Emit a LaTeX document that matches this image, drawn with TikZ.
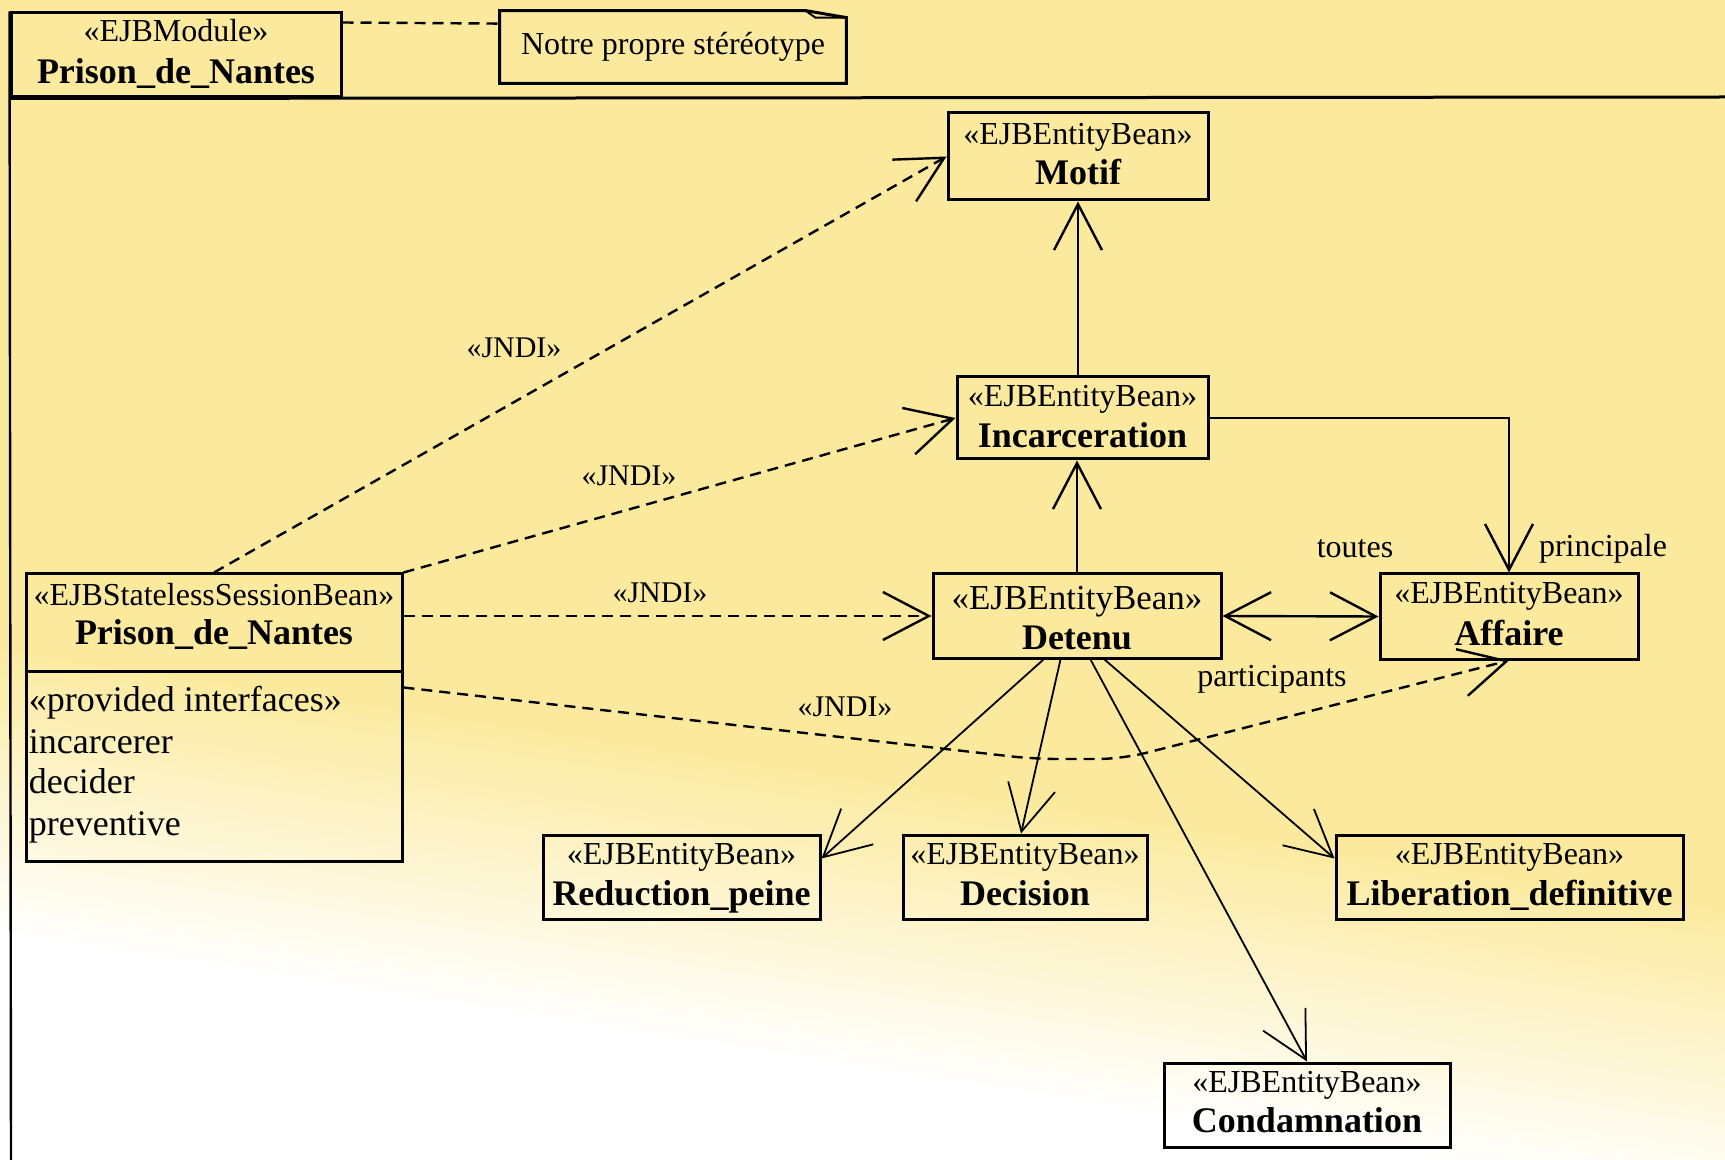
\documentclass[tikz,border=0pt]{standalone}
\usepackage{fontspec}
\setmainfont{Liberation Serif}
\usetikzlibrary{arrows.meta,calc}
\definecolor{bgyellow}{RGB}{251,234,158}

\tikzset{
  openv/.tip={Straight Barb[length=23pt,width=24pt]},
  box/.style={draw, line width=1.5pt, inner sep=0pt},
  stereo/.style={font=\fontsize{16}{19}\selectfont, anchor=base, inner sep=0pt},
  bigstereo/.style={font=\fontsize{17.5}{20}\selectfont, anchor=base, inner sep=0pt},
  title/.style={font=\fontsize{18}{21}\selectfont\bfseries, anchor=base, inner sep=0pt},
  lbl/.style={font=\fontsize{16}{19}\selectfont, inner sep=0pt},
  jndi/.style={font=\fontsize{15}{18}\selectfont, inner sep=0pt},
  iface/.style={font=\fontsize{18}{21}\selectfont, anchor=base west, inner sep=0pt},
  dep/.style={line width=1.2pt, dash pattern=on 5.5pt off 3.5pt, -openv},
  nav/.style={line width=1.2pt, -openv},
  thinnav/.style={line width=0.9pt, -openv},
}

\begin{document}
\begin{tikzpicture}[x=0.5pt,y=-0.5pt]
\useasboundingbox (0,0) rectangle (1725,1160);

% background: yellow fading to white towards the lower left
\fill[bgyellow] (0,0) rectangle (1725,1160);
\begin{scope}
  \clip (0,0) rectangle (1725,1160);
  \foreach \i in {0,...,24} {
    \pgfmathsetmacro\yl{640+290*\i/24}
    \pgfmathsetmacro\yr{900+300*\i/24}
    \pgfmathtruncatemacro\p{100-100*\i/24}
    \fill[bgyellow!\p!white] (0,\yl) -- (1725,\yr) -- (1725,1300) -- (0,1300) -- cycle;
  }
\end{scope}

% module frame and its tab
\node[box, minimum width=165pt, minimum height=42pt] (tab) at (176,55) {};
\node[stereo] (tab-s) at ($(tab.north)+(0,30)$) {«EJBModule»};
\node[title] (tab-t) at ($(tab.north)+(0,72)$) {Prison\_de\_Nantes};
\draw[line width=1.5pt] (tab.south west) -- (1725,97);
\draw[line width=1.2pt] (tab.north west) -- (11,1160);

% note
\node[lbl, minimum width=173pt, minimum height=36pt] (note) at (673,47) {Notre propre stéréotype};
\draw[line width=1.5pt] (note.north west) -- ($(note.north east)+(-41,0)$)
  -- ($(note.north east)+(0,7)$) -- (note.south east) -- (note.south west) -- cycle;
\draw[line width=1pt] ($(note.north east)+(-41,0)$) -- ($(note.north east)+(-31,7)$)
  -- ($(note.north east)+(0,7)$);
\draw[line width=1.2pt, dash pattern=on 5.5pt off 3.5pt]
  ($(tab.north east)+(0,11)$) -- ($(note.north west)+(0,13)$);

% session bean
\node[box, minimum width=188pt, minimum height=143.5pt] (session) at (214,717.5) {};
\draw[line width=1.5pt] ($(session.north west)+(0,99)$) -- ($(session.north east)+(0,99)$);
\node[stereo] (session-s) at ($(session.north)+(0,33)$) {«EJBStatelessSessionBean»};
\node[title] (session-t) at ($(session.north)+(0,72)$) {Prison\_de\_Nantes};
\node[iface] (if1) at ($(session.north west)+(4,139)$) {«provided interfaces»};
\node[iface] (if2) at ($(session.north west)+(4,181)$) {incarcerer};
\node[iface] (if3) at ($(session.north west)+(4,221)$) {decider};
\node[iface] (if4) at ($(session.north west)+(4,263)$) {preventive};

% entity beans
\node[box, minimum width=130pt, minimum height=43.5pt] (motif) at (1078,156.5) {};
\node[stereo] (motif-s) at ($(motif.north)+(0,33)$) {«EJBEntityBean»};
\node[title] (motif-t) at ($(motif.north)+(0,73)$) {Motif};

\node[box, minimum width=125.5pt, minimum height=41pt] (incarc) at (1082.5,418) {};
\node[stereo] (incarc-s) at ($(incarc.north)+(0,31)$) {«EJBEntityBean»};
\node[title] (incarc-t) at ($(incarc.north)+(0,72)$) {Incarceration};

\node[box, minimum width=144pt, minimum height=42pt] (detenu) at (1077,616) {};
\node[bigstereo] (detenu-s) at ($(detenu.north)+(0,37)$) {«EJBEntityBean»};
\node[title] (detenu-t) at ($(detenu.north)+(0,77)$) {Detenu};

\node[box, minimum width=129pt, minimum height=42.5pt] (affaire) at (1509,616.5) {};
\node[stereo] (affaire-s) at ($(affaire.north)+(0,31)$) {«EJBEntityBean»};
\node[title] (affaire-t) at ($(affaire.north)+(0,73)$) {Affaire};

\node[box, minimum width=138.5pt, minimum height=42pt] (reduc) at (681.5,877) {};
\node[stereo] (reduc-s) at ($(reduc.north)+(0,31)$) {«EJBEntityBean»};
\node[title] (reduc-t) at ($(reduc.north)+(0,72)$) {Reduction\_peine};

\node[box, minimum width=122pt, minimum height=42pt] (decision) at (1025,877) {};
\node[stereo] (decision-s) at ($(decision.north)+(0,31)$) {«EJBEntityBean»};
\node[title] (decision-t) at ($(decision.north)+(0,72)$) {Decision};

\node[box, minimum width=173.5pt, minimum height=42pt] (liber) at (1509.5,877) {};
\node[stereo] (liber-s) at ($(liber.north)+(0,31)$) {«EJBEntityBean»};
\node[title] (liber-t) at ($(liber.north)+(0,72)$) {Liberation\_definitive};

\node[box, minimum width=143pt, minimum height=42pt] (condam) at (1307,1105) {};
\node[stereo] (condam-s) at ($(condam.north)+(0,31)$) {«EJBEntityBean»};
\node[title] (condam-t) at ($(condam.north)+(0,71)$) {Condamnation};

% JNDI dependencies
\draw[dep] (session.north) -- (motif.west);
\draw[dep] (session.north east) -- (incarc.west);
\draw[dep] (session.east |- detenu.west) -- (detenu.west);
\coordinate (via1) at (1034,759);
\coordinate (via2) at (1122,759);
\draw[dep, rounded corners=12pt] ($(session.north east)+(0,115)$) -- (via1) -- (via2) -- (affaire.south);
\node[jndi] (jndi1) at (514,348) {«JNDI»};
\node[jndi] (jndi2) at (629,476) {«JNDI»};
\node[jndi] (jndi3) at (660,593) {«JNDI»};
\node[jndi] (jndi4) at (845,707) {«JNDI»};

% associations
\draw[nav] (incarc.north -| motif.south) -- (motif.south);
\draw[nav] (detenu.north) -- (detenu.north |- incarc.south);
\draw[nav] (incarc.east) -| (affaire.north);
\draw[line width=1.2pt, openv-openv] (detenu.east) -- (affaire.west);
\node[lbl] (toutes) at (1355,549) {toutes};
\node[lbl] (principale) at (1603,549) {principale};
\node[lbl] (participants) at (1272,679) {participants};

\draw[thinnav] ($(detenu.south west)+(112,0)$) -- ($(reduc.north east)+(0,25)$);
\draw[thinnav] ($(detenu.south west)+(129,0)$) -- ($(decision.north)+(-4,0)$);
\draw[thinnav] ($(detenu.south west)+(159,0)$) -- (condam.north);
\draw[thinnav] ($(detenu.south west)+(173,0)$) -- ($(liber.north west)+(0,25)$);
\end{tikzpicture}
\end{document}
